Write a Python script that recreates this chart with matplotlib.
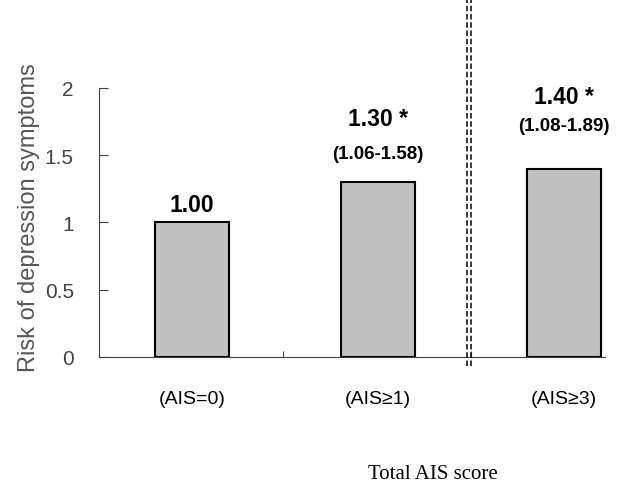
import matplotlib
matplotlib.use('Agg')
import matplotlib.pyplot as plt

categories = ['(AIS=0)', '(AIS≥1)', '(AIS≥3)']
risk = [1.00, 1.30, 1.40]
value_labels = ['1.00', '1.30 *', '1.40 *']
ci_labels = ['', '(1.06-1.58)', '(1.08-1.89)']
y_ticks = [0, 0.5, 1, 1.5, 2]
y_tick_labels = ['0', '0.5', '1', '1.5', '2']

plt.rcParams['font.family'] = ['Liberation Sans', 'DejaVu Sans']

fig = plt.figure(figsize=(6.25, 4.89), dpi=100)
ax = fig.add_axes([0.158, 0.268, 0.81, 0.55])

x = list(range(len(categories)))
ax.bar(x, risk, width=0.4, color='#c0c0c0', edgecolor='black', linewidth=1.5, zorder=3)

# label offsets above each bar (value, ci)
val_off = [0.13, 0.47, 0.54]
ci_off = [0, 0.21, 0.32]
for i, (v, lab, ci) in enumerate(zip(risk, value_labels, ci_labels)):
    ax.text(i, v + val_off[i], lab, ha='center', va='center', fontsize=16.5, fontweight='bold')
    if ci:
        ax.text(i, v + ci_off[i], ci, ha='center', va='center', fontsize=13.5, fontweight='bold')

ax.set_xlim(-0.5, 2.22)
ax.set_ylim(0, 2)
ax.set_yticks(y_ticks)
ax.set_yticklabels(y_tick_labels, fontsize=15, color='#444444')
ax.set_xticks([0.49, 1.5])
ax.set_xticklabels([])
ax.tick_params(axis='y', direction='in', length=6.5, color='#404040', pad=18)
ax.tick_params(axis='x', direction='in', length=4.5, color='#404040')
for i, c in enumerate(categories):
    ax.text(i, -0.31, c, ha='center', va='center', fontsize=14)

for s in ['top', 'right']:
    ax.spines[s].set_visible(False)
for s in ['left', 'bottom']:
    ax.spines[s].set_color('#404040')

ax.set_ylabel('Risk of depression symptoms', fontsize=17, color='#555555')
ax.yaxis.set_label_coords(-0.117, 0.52)

# dashed double separator
for dx in (-0.011, 0.011):
    ax.plot([1.49 + dx, 1.49 + dx], [-0.07, 2.7], color='black', linestyle=(0, (3.6, 1.8)),
            linewidth=1.1, clip_on=False, zorder=4)

fig.text(0.693, 0.029, 'Total AIS score', ha='center', va='center', fontsize=15,
         family=['Liberation Serif', 'DejaVu Serif'])

fig.savefig('out.png', dpi=100)
